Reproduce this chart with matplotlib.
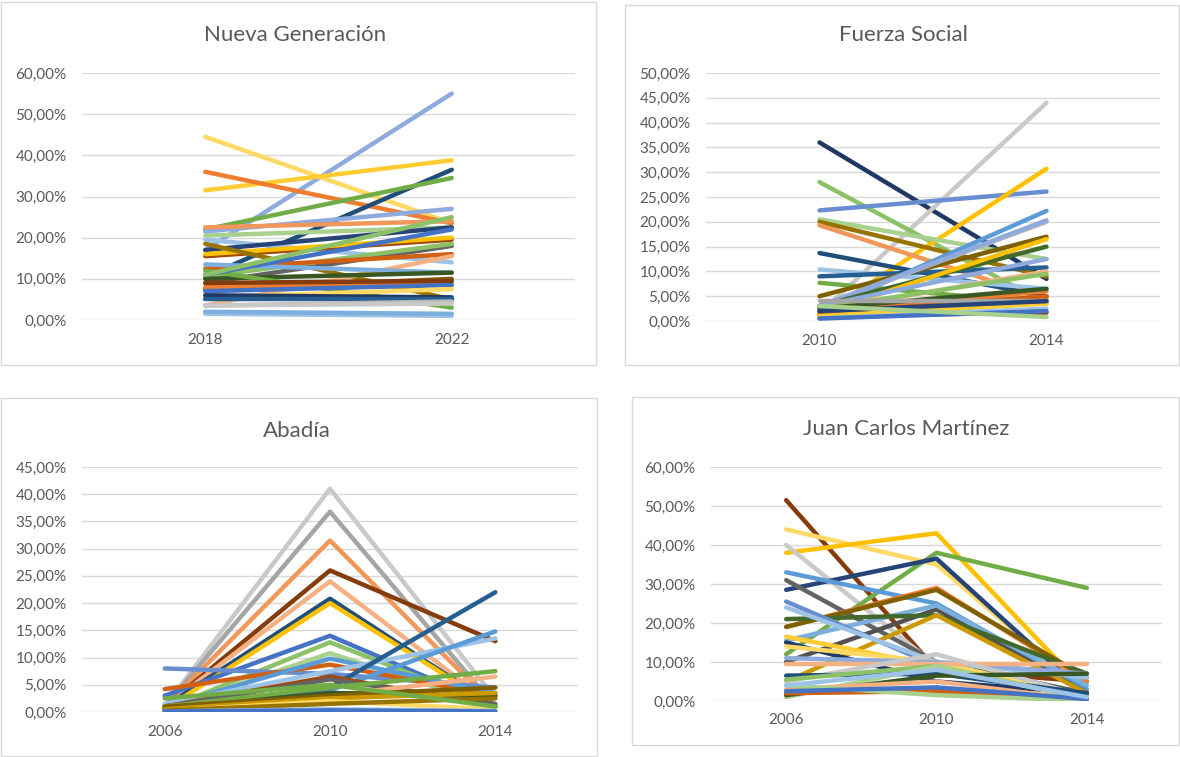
import matplotlib
matplotlib.use("Agg")
import matplotlib.pyplot as plt
from matplotlib.patches import Rectangle
from matplotlib.ticker import FuncFormatter, MultipleLocator

# excel-ish palette
C = {
    'blue': '#4472C4', 'orange': '#ED7D31', 'gray': '#A5A5A5', 'gold': '#FFC000',
    'lblue': '#5B9BD5', 'green': '#70AD47', 'navy': '#264478', 'brown': '#9E480E',
    'dgray': '#636363', 'olive': '#997300', 'dblue': '#255E91', 'dgreen': '#43682B',
    'vblue': '#698ED0', 'salmon': '#F1975A', 'lgray': '#B7B7B7', 'yellow': '#FFCD33',
    'sky': '#7CAFDD', 'lgreen': '#8CC168', 'pblue': '#8FAADC', 'peach': '#F4B183',
    'pgray': '#C9C9C9', 'pyellow': '#FFD966', 'pale': '#9DC3E6', 'pgreen': '#A9D18E',
    'dnavy': '#203864', 'rust': '#843C0C', 'charcoal': '#525252', 'dolive': '#7F6000',
    'deep': '#1F4E79', 'forest': '#385723', 'dorange': '#D26012', 'mgold': '#CC9A00',
}

# Nueva Generacion (2018, 2022)
ng_years = ['2018', '2022']
ng_2018 = [17, 44.5, 31.5, 36, 10.5, 22, 21.5, 22.5, 20.5, 19.5, 17, 15.5, 16, 18.5,
           9, 10.5, 12.5, 3.5, 13.5, 10, 12, 7.5, 8, 9, 7, 5.5, 6, 5, 3.5, 1.5, 2, 11, 3.5, 11]
ng_2022 = [55, 23.5, 38.8, 23.5, 36.5, 34.5, 27, 24, 22.5, 14, 22.5, 19.5, 20, 5,
           18, 18.5, 16, 15.5, 11.5, 11.5, 3, 10, 9, 9.5, 8.5, 7.5, 5.5, 5, 4.5, 1, 1.5, 22, 4, 25]
ng_colors = ['pblue', 'pyellow', 'yellow', 'orange', 'deep', 'green', 'pblue', 'salmon',
             'pgreen', 'pale', 'navy', 'brown', 'gold', 'olive', 'dgray', 'lgreen', 'dorange',
             'peach', 'sky', 'forest', 'green', 'dolive', 'orange', 'rust', 'blue', 'pyellow',
             'dnavy', 'dblue', 'lgray', 'pale', 'sky', 'blue', 'pgray', 'lgreen']

# Fuerza Social (2010, 2014)
fs_years = ['2010', '2014']
fs_2010 = [36, 1.5, 28, 22.3, 1, 20.5, 20, 19.3, 13.7, 10.4, 9, 7.7, 5, 2, 3, 3, 3,
           1.5, 3, 2, 2.5, 2, 2.5, 1.5, 1, 1, 0.5, 0.5, 4, 2, 3]
fs_2014 = [8.5, 44, 3.5, 26.1, 30.7, 12.5, 9, 4.5, 5, 6.5, 10.8, 3.5, 17, 22.2, 20, 20.3, 15,
           16.5, 12.5, 10, 9.5, 6, 6.5, 5, 1.7, 3.5, 2.5, 2, 4, 4, 0.8]
fs_colors = ['dnavy', 'pgray', 'lgreen', 'vblue', 'gold', 'pgreen', 'olive', 'salmon', 'deep',
             'pale', 'dblue', 'green', 'dolive', 'lblue', 'lgray', 'pblue', 'dgreen', 'gold',
             'pblue', 'peach', 'lgreen', 'orange', 'forest', 'dorange', 'rust', 'yellow', 'pale',
             'blue', 'gray', 'navy', 'pgreen']

# Abadia (2006, 2010, 2014)
ab_years = ['2006', '2010', '2014']
ab_2006 = [1, 1, 1, 1, 1, 1, 0.5, 3, 0.5, 0.5, 8, 4.2, 1, 1.5, 0.5, 0.5, 1, 1, 1, 1,
           0.5, 1, 0.5, 0.2, 0.3, 0.1, 0.1, 2.5]
ab_2010 = [41, 36.8, 31.5, 26, 24, 20.8, 20, 14, 12.8, 10.8, 7, 8.7, 9.8, 7.5, 4, 4.5, 6.5,
           6, 4.5, 3, 3.5, 3, 2.5, 2, 1.5, 0.5, 0.3, 5]
ab_2014 = [2.5, 1, 1, 13, 1, 1, 1, 1, 1, 1, 4.5, 3, 3.5, 13.5, 14.8, 22, 1, 1.5, 7.5, 6.5,
           3, 4.5, 3.5, 0.5, 2.5, 0.2, 0.1, 1]
ab_colors = ['pgray', 'gray', 'salmon', 'rust', 'peach', 'deep', 'gold', 'blue', 'lgreen',
             'pgreen', 'vblue', 'dorange', 'lblue', 'pale', 'lblue', 'dblue', 'brown', 'dgray',
             'green', 'peach', 'forest', 'dolive', 'mgold', 'pyellow', 'olive', 'pale', 'blue',
             'green']

# Juan Carlos Martinez (2006, 2010, 2014)
jc_years = ['2006', '2010', '2014']
jc_2006 = [51.5, 44, 38, 40, 12, 28.5, 33, 31, 19, 19, 10, 15.5, 21, 5, 25.5, 24, 15,
           16.5, 14, 11, 9.5, 5, 6.5, 5.5, 1, 1.5, 2, 3, 4, 2.5, 4]
jc_2010 = [8, 35, 43, 9, 38, 36.5, 25, 10, 29, 28.5, 23.5, 24.5, 22, 22, 9, 10, 5,
           9, 10, 10, 9.5, 12, 7, 9, 9, 6.5, 2.5, 5, 1.5, 3.5, 8]
jc_2014 = [5, 2, 2.5, 0.5, 29, 1.5, 3, 2, 5, 6, 2, 4, 7, 2, 1, 6, 2,
           1, 1, 7, 9.5, 1, 2, 0.5, 0.3, 7, 0.3, 0.2, 0.1, 0.5, 1]
jc_colors = ['rust', 'pyellow', 'gold', 'pgray', 'green', 'navy', 'lblue', 'dgray', 'orange',
             'dolive', 'charcoal', 'sky', 'dgreen', 'mgold', 'vblue', 'pale', 'dnavy', 'yellow',
             'pyellow', 'pblue', 'peach', 'pgray', 'deep', 'lgreen', 'pgreen', 'forest',
             'dorange', 'peach', 'pgreen', 'blue', 'pale']

W, H = 1180, 757
fig = plt.figure(figsize=(W / 100, H / 100), dpi=100)
fig.patch.set_facecolor('white')

text_col = '#595959'
font = 'Lato'


def px_axes(x0, y0, x1, y1):
    return fig.add_axes([x0 / W, 1 - y1 / H, (x1 - x0) / W, (y1 - y0) / H])


def border(x0, y0, x1, y1):
    fig.patches.append(Rectangle((x0 / W, 1 - y1 / H), (x1 - x0) / W, (y1 - y0) / H,
                                 transform=fig.transFigure, fill=False,
                                 edgecolor='#D9D9D9', lw=1))


def panel(box, frame, title, tx, ty, years, series, colors, ymax, step):
    border(*frame)
    ax = px_axes(*box)
    xs = range(len(years))
    for vals, c in zip(series, colors):
        ax.plot(xs, vals, color=C[c], lw=3.2, solid_capstyle='round')
    ax.set_xlim(-0.5, len(years) - 0.5)
    ax.set_ylim(0, ymax)
    ax.yaxis.set_major_locator(MultipleLocator(step))
    ax.yaxis.set_major_formatter(FuncFormatter(lambda v, p: f"{v:.2f}%".replace('.', ',')))
    ax.set_xticks(list(xs))
    ax.set_xticklabels(years)
    ax.grid(axis='y', color='#D9D9D9', lw=1)
    ax.set_axisbelow(True)
    for s in ax.spines.values():
        s.set_visible(False)
    ax.tick_params(axis='y', length=0, labelsize=11, labelcolor=text_col, pad=11)
    ax.tick_params(axis='x', length=0, labelsize=11, labelcolor=text_col, pad=9)
    for lab in ax.get_xticklabels() + ax.get_yticklabels():
        lab.set_fontfamily(font)
    fig.text(tx / W, 1 - ty / H, title, ha='center', va='center', fontsize=16,
             color=text_col, family=font)


panel((82, 73, 575, 320), (1, 2, 596, 365), 'Nueva Generación', 295, 35,
      ng_years, list(zip(ng_2018, ng_2022)), ng_colors, 60, 10)
panel((706, 73, 1160, 321), (625, 5, 1179, 365), 'Fuerza Social', 903, 35,
      fs_years, list(zip(fs_2010, fs_2014)), fs_colors, 50, 5)
panel((82, 467, 578, 712), (1, 398, 597, 756), 'Abadía', 297, 431,
      ab_years, list(zip(ab_2006, ab_2010, ab_2014)), ab_colors, 45, 5)
panel((711, 467, 1162, 701), (632, 397, 1179, 745), 'Juan Carlos Martínez', 906, 429,
      jc_years, list(zip(jc_2006, jc_2010, jc_2014)), jc_colors, 60, 10)

fig.savefig('out.png', dpi=100, facecolor='white')
